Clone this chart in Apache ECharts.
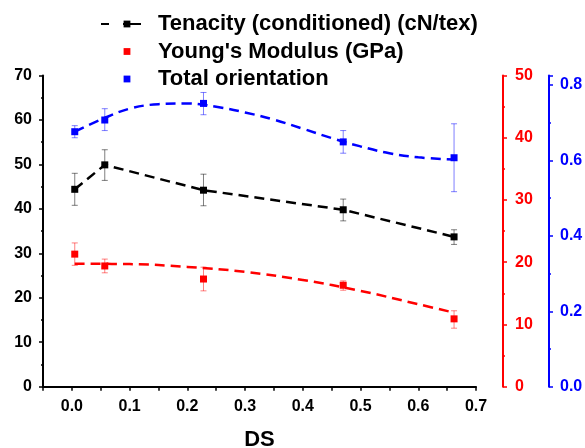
<!DOCTYPE html>
<html>
<head>
<meta charset="utf-8">
<script src="https://cdn.jsdelivr.net/npm/echarts@6/dist/echarts.min.js"></script>
<style>
html,body{margin:0;padding:0;background:#fff;}
#chart{width:585px;height:448px;}
</style>
</head>
<body>
<div id="chart"></div>
<script>
// ---- data ----
const ds = [0.005, 0.057, 0.228, 0.47, 0.662];

const tenacity     = [44.4, 49.9, 44.2, 39.8, 33.7];
const tenacityLow  = [40.8, 46.4, 40.7, 37.3, 32.0];
const tenacityHigh = [48.0, 53.3, 47.8, 42.2, 35.3];

const modulus      = [21.3, 19.4, 17.3, 16.3, 10.9];
const modulusLow   = [19.5, 18.3, 15.4, 15.5, 9.4];
const modulusHigh  = [23.1, 20.5, 19.2, 17.0, 12.2];

const orientation     = [0.676, 0.707, 0.751, 0.649, 0.607];
const orientationLow  = [0.660, 0.679, 0.721, 0.619, 0.517];
const orientationHigh = [0.692, 0.737, 0.780, 0.679, 0.697];

// fitted (dashed) curves
const modFitX = [0.005, 0.1, 0.2, 0.3, 0.4, 0.5, 0.6, 0.662];
const modFitY = [19.75, 19.7, 19.25, 18.45, 17.15, 15.4, 13.25, 11.9];
const oriFitX = [0.005, 0.05, 0.1, 0.15, 0.2, 0.25, 0.3, 0.35, 0.4, 0.45, 0.5, 0.55, 0.6, 0.662];
const oriFitY = [0.676, 0.708, 0.737, 0.749, 0.751, 0.742, 0.727, 0.708, 0.684, 0.659, 0.637, 0.619, 0.608, 0.602];

const names = ['Tenacity (conditioned) (cN/tex)', "Young's Modulus (GPa)", 'Total orientation'];
const xName = 'DS';

// ---- chart ----
const FONT = '"Liberation Sans", Arial, sans-serif';
const zip = (xs, ys) => xs.map((x, i) => [x, ys[i]]);

function errSeries(lows, highs, color, yIdx) {
  return {
    type: 'custom',
    yAxisIndex: yIdx,
    silent: true,
    z: 1,
    data: ds.map((x, i) => [x, lows[i], highs[i]]),
    encode: { x: 0, y: [1, 2] },
    renderItem: function (params, api) {
      const lo = api.coord([api.value(0), api.value(1)]);
      const hi = api.coord([api.value(0), api.value(2)]);
      const w = 3;
      const st = { stroke: color, lineWidth: 1 };
      return {
        type: 'group',
        children: [
          { type: 'line', shape: { x1: lo[0], y1: lo[1], x2: hi[0], y2: hi[1] }, style: st },
          { type: 'line', shape: { x1: lo[0] - w, y1: lo[1], x2: lo[0] + w, y2: lo[1] }, style: st },
          { type: 'line', shape: { x1: hi[0] - w, y1: hi[1], x2: hi[0] + w, y2: hi[1] }, style: st }
        ]
      };
    }
  };
}

function yAx(opts) {
  const c = opts.color;
  return {
    type: 'value',
    position: opts.position,
    offset: opts.offset || 0,
    min: opts.min, max: opts.max, interval: opts.interval,
    axisLine: { show: true, onZero: false, lineStyle: { color: c, width: 2 } },
    axisTick: { show: true, inside: false, length: 4, lineStyle: { color: c, width: 1.5 } },
    minorTick: { show: true, splitNumber: 2, length: 2, lineStyle: { color: c, width: 1.5 } },
    splitLine: { show: false },
    axisLabel: {
      color: c, fontSize: 16, fontWeight: 'bold', fontFamily: FONT, margin: opts.margin,
      showMaxLabel: opts.showMax !== false,
      formatter: opts.formatter
    }
  };
}

const chart = echarts.init(document.getElementById('chart'), null, { renderer: 'canvas' });
chart.setOption({
  animation: false,
  backgroundColor: '#fff',
  grid: { left: 43, right: 109, top: 75.5, bottom: 61.3, containLabel: false, outerBoundsMode: 'none' },
  legend: {
    data: names,
    orient: 'vertical',
    left: 95, top: 7.5,
    itemWidth: 52, itemHeight: 8.5, itemGap: 4.5,
    selectedMode: false,
    lineStyle: { type: [8, 14, 18, 100] },
    textStyle: { fontSize: 22, fontWeight: 'bold', color: '#000', fontFamily: FONT, lineHeight: 23 }
  },
  xAxis: {
    type: 'value',
    min: -0.05, max: 0.7, interval: 0.05,
    name: xName, nameLocation: 'middle', nameGap: 42,
    nameTextStyle: { fontSize: 22, fontWeight: 'bold', color: '#000', fontFamily: FONT },
    axisLine: { show: true, onZero: false, lineStyle: { color: '#000', width: 2 } },
    axisTick: { show: true, inside: false, length: 4, lineStyle: { color: '#000', width: 1.5 } },
    splitLine: { show: false },
    axisLabel: {
      color: '#000', fontSize: 16, fontWeight: 'bold', fontFamily: FONT, margin: 12,
      showMinLabel: true, showMaxLabel: true,
      formatter: function (v) {
        const k = Math.round(v * 100);
        if (k % 10 !== 0) return '';
        return (k / 100).toFixed(1);
      }
    }
  },
  yAxis: [
    yAx({ position: 'left', color: '#000', min: 0, max: 70, interval: 10, margin: 11 }),
    yAx({ position: 'right', color: '#ff0000', min: 0, max: 50, interval: 10, offset: 27, margin: 12 }),
    yAx({ position: 'right', color: '#0000ff', min: 0, max: 0.825, interval: 0.2, offset: 73, margin: 11,
          showMax: false, formatter: v => v.toFixed(1) })
  ],
  series: [
    errSeries(tenacityLow, tenacityHigh, 'rgba(0,0,0,0.5)', 0),
    errSeries(modulusLow, modulusHigh, 'rgba(255,0,0,0.5)', 1),
    errSeries(orientationLow, orientationHigh, 'rgba(0,0,255,0.5)', 2),
    {
      name: 'modFit', type: 'line', yAxisIndex: 1, data: zip(modFitX, modFitY),
      smooth: 0.4, showSymbol: false, silent: true, z: 2,
      lineStyle: { color: '#ff0000', width: 2.5, type: [10, 6] }
    },
    {
      name: 'oriFit', type: 'line', yAxisIndex: 2, data: zip(oriFitX, oriFitY),
      smooth: 0.4, showSymbol: false, silent: true, z: 2,
      lineStyle: { color: '#0000ff', width: 2.5, type: [10, 6] }
    },
    {
      name: names[0], type: 'line', yAxisIndex: 0, data: zip(ds, tenacity),
      symbol: 'rect', symbolSize: 7, z: 3,
      itemStyle: { color: '#000' },
      lineStyle: { color: '#000', width: 2.5, type: [10, 6] }
    },
    {
      name: names[1], type: 'line', yAxisIndex: 1, data: zip(ds, modulus),
      symbol: 'rect', symbolSize: 7, z: 3,
      itemStyle: { color: '#ff0000' },
      lineStyle: { width: 0, opacity: 0 }
    },
    {
      name: names[2], type: 'line', yAxisIndex: 2, data: zip(ds, orientation),
      symbol: 'rect', symbolSize: 7, z: 3,
      itemStyle: { color: '#0000ff' },
      lineStyle: { width: 0, opacity: 0 }
    }
  ]
});
</script>
</body>
</html>
